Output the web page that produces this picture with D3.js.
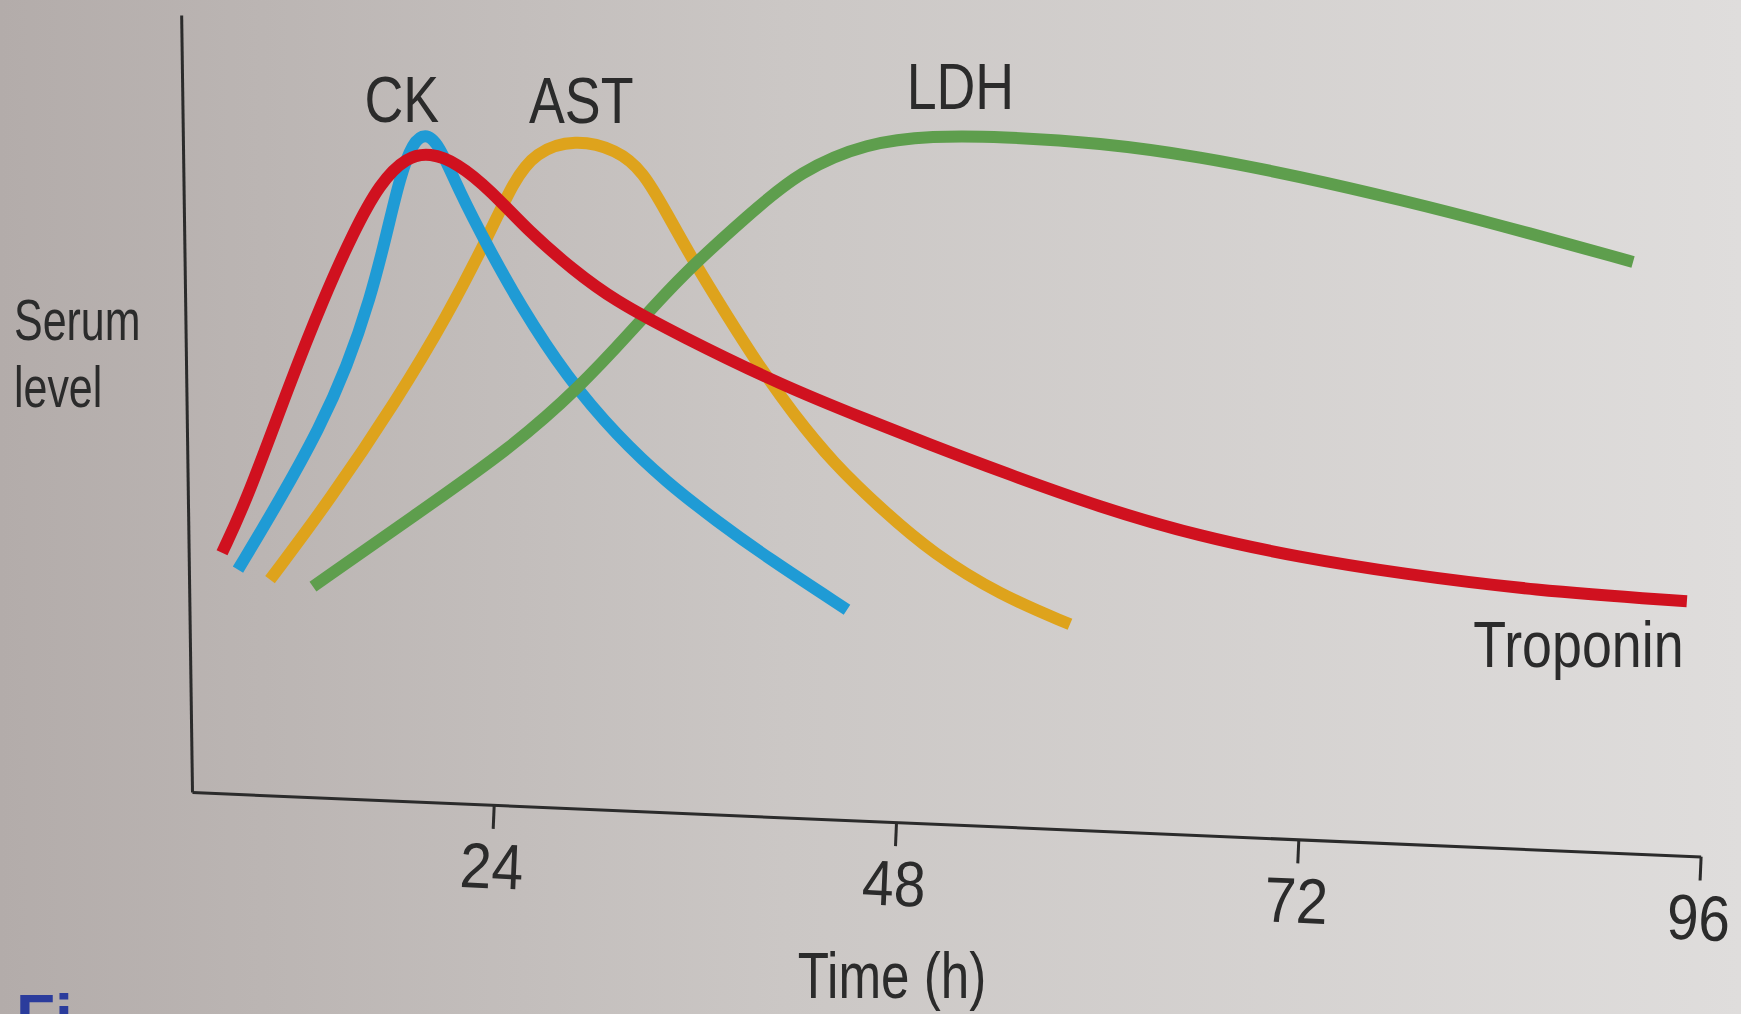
<!DOCTYPE html>
<html>
<head>
<meta charset="utf-8">
<script src="https://cdn.jsdelivr.net/npm/d3@7"></script>
<style>
  html, body { margin: 0; padding: 0; overflow: hidden; }
  #my_dataviz text {
    font-family: "Liberation Sans", Arial, sans-serif;
    fill: #2b2b2b;
  }
</style>
</head>
<body>
<div id="my_dataviz"></div>
<script>
// hours after onset / relative serum level
var ckTime  = [8.74, 11.24, 13.63, 15.24, 16.61, 17.62, 18.40, 19.17, 19.89, 20.66, 21.97, 23.58, 25.55, 28.35, 31.33, 34.31, 37.29, 40.27, 45.04];
var ckLevel = [27.9, 37.0, 46.4, 54.3, 63.0, 71.7, 79.0, 83.5, 84.6, 83.5, 76.9, 70.1, 62.3, 52.9, 45.3, 39.2, 34.2, 29.5, 22.7];

var astTime  = [10.65, 14.23, 18.22, 21.20, 23.76, 25.13, 26.44, 28.83, 31.33, 32.88, 34.31, 35.86, 37.89, 39.85, 41.82, 44.20, 47.18, 50.16, 54.16, 58.33];
var astLevel = [26.6, 37.0, 50.0, 60.8, 71.7, 78.2, 82.2, 83.9, 82.5, 79.7, 74.2, 68.1, 60.9, 54.2, 48.2, 41.8, 35.6, 30.0, 24.6, 20.8];

var ldhTime  = [13.21, 19.17, 25.13, 29.13, 32.11, 35.09, 39.26, 42.24, 46.23, 50.16, 54.16, 60.12, 66.08, 72.04, 78.00, 83.96, 91.89];
var ldhLevel = [25.7, 34.8, 43.9, 51.7, 58.7, 66.0, 74.2, 79.7, 83.4, 84.3, 84.2, 83.4, 81.6, 79.0, 76.0, 72.7, 67.9];

var tropTime  = [7.79, 9.28, 11.84, 13.81, 15.60, 17.21, 18.81, 20.19, 21.79, 23.76, 26.15, 28.71, 31.09, 35.09, 41.22, 46.23, 50.16, 54.16, 60.12, 66.08, 72.04, 78.00, 85.93, 95.10];
var tropLevel = [30.1, 37.0, 52.2, 63.0, 71.7, 78.2, 81.6, 82.1, 80.8, 77.3, 71.7, 66.9, 63.0, 58.3, 51.8, 47.4, 44.0, 40.7, 36.0, 32.2, 29.5, 27.4, 25.2, 23.8];

var xTicks = [24, 48, 72, 96];

var series = [
  {name: "AST",      color: "#dea31c", time: astTime,  level: astLevel},
  {name: "CK",       color: "#1f9bd5", time: ckTime,   level: ckLevel},
  {name: "LDH",      color: "#5e9e4d", time: ldhTime,  level: ldhLevel},
  {name: "Troponin", color: "#d0111f", time: tropTime, level: tropLevel}
];

var W = 1741, H = 1014;
var margin = {top: 15, right: 39, bottom: 222, left: 192},
    width = W - margin.left - margin.right,
    height = H - margin.top - margin.bottom;

// squeeze text horizontally (condensed face in the original)
function condense(sel, f) {
  sel.each(function() {
    var w = this.getComputedTextLength();
    d3.select(this).attr("textLength", w * f).attr("lengthAdjust", "spacingAndGlyphs");
  });
}

var root = d3.select("#my_dataviz")
  .append("svg")
  .attr("width", W)
  .attr("height", H);

// photographed page: darker on the left, lighter to the right
var grad = root.append("defs").append("linearGradient")
  .attr("id", "paper")
  .attr("x1", "0%").attr("x2", "100%").attr("y1", "0%").attr("y2", "0%");
grad.append("stop").attr("offset", "0%").attr("stop-color", "#b3acaa");
grad.append("stop").attr("offset", "45%").attr("stop-color", "#cbc7c5");
grad.append("stop").attr("offset", "100%").attr("stop-color", "#dfdddc");
root.append("rect").attr("width", W).attr("height", H).attr("fill", "url(#paper)");

var svg = root.append("g")
  .attr("transform", "translate(" + margin.left + "," + margin.top + ")");

var x = d3.scaleLinear().domain([6, 96]).range([0, width]);
var y = d3.scaleLinear().domain([-1, 100]).range([height, 0]);

// x axis (page is slightly tilted in the photo)
var xAxis = svg.append("g")
  .attr("transform", "translate(0," + height + ") rotate(2.45)")
  .style("font-size", "64px")
  .style("color", "#2b2b2b")
  .call(d3.axisBottom(x).tickValues(xTicks).tickSize(24).tickPadding(14).tickSizeOuter(0));
xAxis.select(".domain").attr("stroke-width", 3);
xAxis.selectAll(".tick line").attr("stroke-width", 3);
condense(xAxis.selectAll(".tick text"), 0.89);

// y axis: line only
var yAxis = svg.append("g")
  .attr("transform", "rotate(-0.8,0," + height + ")")
  .style("color", "#2b2b2b")
  .call(d3.axisLeft(y).tickValues([]).tickSizeOuter(0));
yAxis.select(".domain").attr("stroke-width", 3);

var line = d3.line()
  .x(function(d) { return x(d[0]); })
  .y(function(d) { return y(d[1]); })
  .curve(d3.curveBasis);

svg.selectAll(".curve")
  .data(series)
  .enter()
  .append("path")
  .attr("class", "curve")
  .attr("fill", "none")
  .attr("stroke", function(d) { return d.color; })
  .attr("stroke-width", 12)
  .attr("d", function(d) { return line(d.time.map(function(t, i) { return [t, d.level[i]]; })); });

// curve labels
var labels = svg.append("g").style("font-size", "64px");
labels.append("text").attr("x", x(18.5)).attr("y", y(86.1)).attr("text-anchor", "middle").text("CK");
labels.append("text").attr("x", x(29.2)).attr("y", y(86.0)).attr("text-anchor", "middle").text("AST");
labels.append("text").attr("x", x(51.8)).attr("y", y(87.8)).attr("text-anchor", "middle").text("LDH");
labels.append("text").attr("x", x(94.9)).attr("y", y(15.3)).attr("text-anchor", "end").text("Troponin");
condense(labels.selectAll("text"), 0.84);

// axis titles
var yTitle = root.append("g").style("font-size", "58px");
yTitle.append("text").attr("x", 14).attr("y", 340).text("Serum");
yTitle.append("text").attr("x", 14).attr("y", 407).text("level");
condense(yTitle.selectAll("text"), 0.74);

var xTitle = root.append("text").attr("x", 892).attr("y", 998).attr("text-anchor", "middle")
  .style("font-size", "64px").text("Time (h)");
condense(xTitle, 0.8);

// caption cut off at the bottom of the photo
root.append("text").attr("x", 16).attr("y", 1040).style("font-size", "64px").style("font-weight", "bold")
  .style("fill", "#2b3c9c").text("Fi");
</script>
</body>
</html>
